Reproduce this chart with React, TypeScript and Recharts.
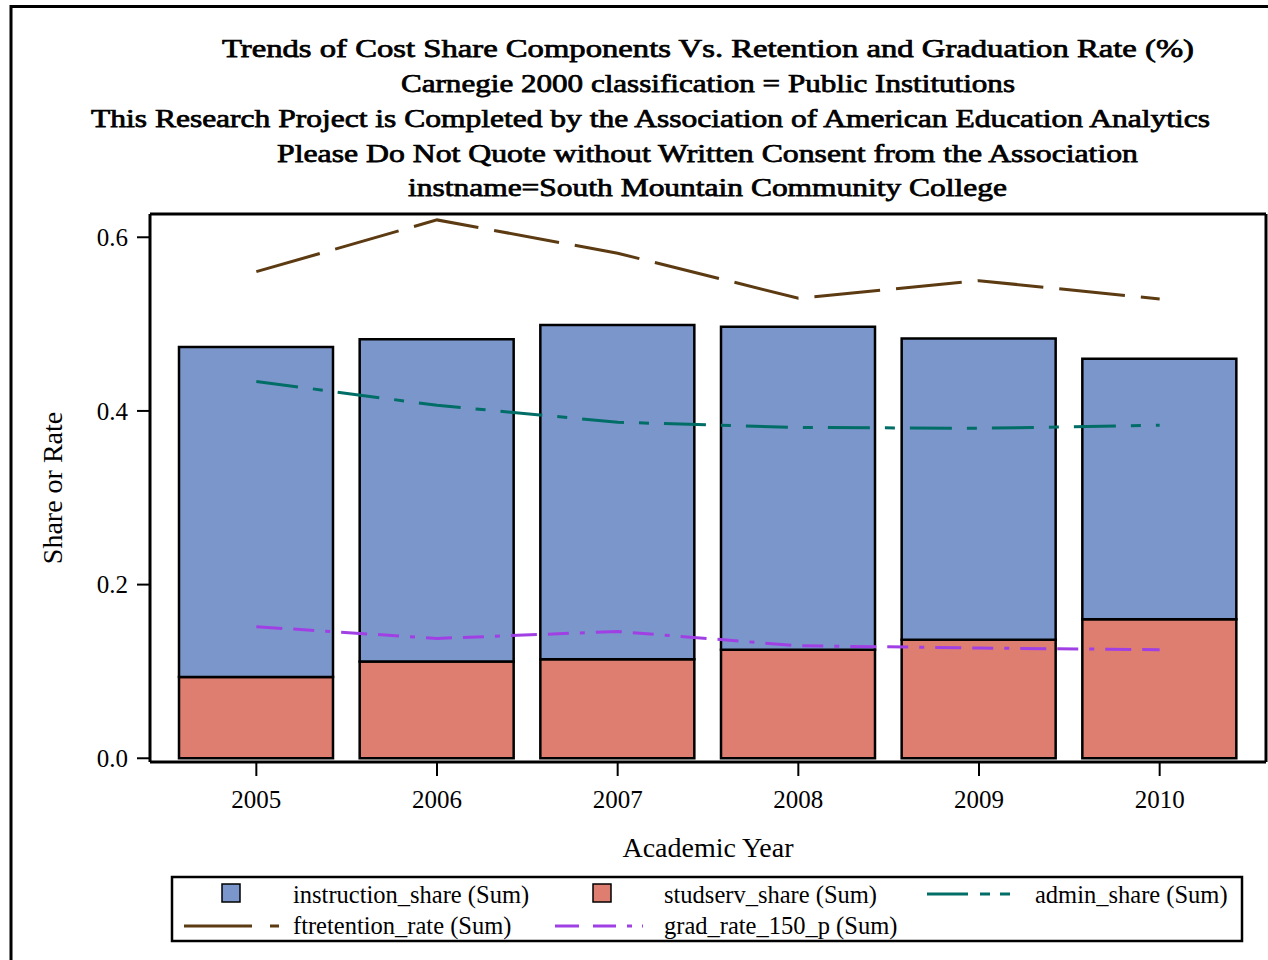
import React from 'react';
import { ComposedChart, Bar, Line, XAxis, YAxis } from 'recharts';

const years = ['2005', '2006', '2007', '2008', '2009', '2010'];
const instructionShare = [0.380, 0.371, 0.385, 0.372, 0.347, 0.300];
const studservShare = [0.0935, 0.1115, 0.114, 0.125, 0.1365, 0.160];
const adminShare = [0.434, 0.4065, 0.387, 0.381, 0.380, 0.3835];
const ftretentionRate = [0.5604, 0.620, 0.5816, 0.5298, 0.550, 0.529];
const gradRate150 = [0.1515, 0.138, 0.146, 0.1296, 0.127, 0.125];
const yTicks = [0, 0.2, 0.4, 0.6];

const titleLines = [
  'Trends of Cost Share Components Vs. Retention and Graduation Rate (%)',
  'Carnegie 2000 classification = Public Institutions',
  'This Research Project is Completed by the Association of American Education Analytics',
  'Please Do Not Quote without Written Consent from the Association',
  'instname=South Mountain Community College',
];

const data = years.map((y, i) => ({
  year: y,
  instruction: instructionShare[i],
  studserv: studservShare[i],
  admin: adminShare[i],
  ftretention: ftretentionRate[i],
  grad: gradRate150[i],
}));

const COLORS = {
  instruction: '#7B96CB',
  studserv: '#DE7E70',
  admin: '#006E66',
  ftretention: '#5C3A12',
  grad: '#A040E4',
};

const DASH = {
  ftretention: '66 16',
  admin: '42 15 10 15',
  grad: '26 11 21 11 5 11',
};

const FONT = 'Liberation Serif';

// title layout: [center x, baseline y, width]
const titleLayout: [number, number, number][] = [
  [708, 57, 972],
  [708, 92, 614],
  [650.5, 127, 1119],
  [707.5, 162, 861],
  [707.5, 196, 599],
];

export default function App() {
  return (
    <div style={{ position: 'absolute', left: 0, top: 0, width: 1268, height: 960, background: '#fff', overflow: 'hidden' }}>
      <ComposedChart
        width={1268}
        height={960}
        data={data}
        margin={{ top: 213, right: 1, bottom: 98, left: 0 }}
      >
        <XAxis
          xAxisId="main"
          dataKey="year"
          type="category"
          padding={{ left: 16, right: 16 }}
          height={100}
          axisLine={{ stroke: '#000', strokeWidth: 3 }}
          tickLine={{ stroke: '#000', strokeWidth: 2 }}
          tickSize={14}
          tickMargin={14}
          tick={{ fill: '#000', fontSize: 25, fontFamily: FONT }}
          label={{ value: 'Academic Year', position: 'insideBottom', offset: 5, fill: '#000', fontSize: 28, fontFamily: FONT }}
        />
        <XAxis
          xAxisId="top"
          dataKey="year"
          orientation="top"
          height={1}
          tick={false}
          tickLine={false}
          axisLine={{ stroke: '#000', strokeWidth: 3 }}
        />
        <YAxis
          yAxisId="left"
          type="number"
          width={150}
          domain={[-0.0043, 0.6268]}
          allowDataOverflow
          ticks={yTicks}
          tickFormatter={(v: number) => v.toFixed(1)}
          axisLine={{ stroke: '#000', strokeWidth: 3 }}
          tickLine={{ stroke: '#000', strokeWidth: 2 }}
          tickSize={13}
          tickMargin={9}
          tick={{ fill: '#000', fontSize: 25, fontFamily: FONT }}
          label={{ value: 'Share or Rate', angle: -90, position: 'insideLeft', offset: 52, fill: '#000', fontSize: 28, fontFamily: FONT, style: { textAnchor: 'middle' } }}
        />
        <YAxis
          yAxisId="right"
          orientation="right"
          type="number"
          width={1}
          domain={[-0.0043, 0.6268]}
          tick={false}
          tickLine={false}
          axisLine={{ stroke: '#000', strokeWidth: 3 }}
        />
        <Bar xAxisId="main" yAxisId="left" dataKey="studserv" stackId="s" barSize={154} fill={COLORS.studserv} stroke="#000" strokeWidth={2.5} isAnimationActive={false} />
        <Bar xAxisId="main" yAxisId="left" dataKey="instruction" stackId="s" barSize={154} fill={COLORS.instruction} stroke="#000" strokeWidth={2.5} isAnimationActive={false} />
        <Line xAxisId="main" yAxisId="left" type="linear" dataKey="ftretention" stroke={COLORS.ftretention} strokeWidth={3} strokeDasharray={DASH.ftretention} dot={false} activeDot={false} isAnimationActive={false} />
        <Line xAxisId="main" yAxisId="left" type="linear" dataKey="admin" stroke={COLORS.admin} strokeWidth={3} strokeDasharray={DASH.admin} dot={false} activeDot={false} isAnimationActive={false} />
        <Line xAxisId="main" yAxisId="left" type="linear" dataKey="grad" stroke={COLORS.grad} strokeWidth={3} strokeDasharray={DASH.grad} dot={false} activeDot={false} isAnimationActive={false} />
      </ComposedChart>
      <svg width={1268} height={960} style={{ position: 'absolute', left: 0, top: 0, pointerEvents: 'none' }}>
        <rect x={11} y={6.5} width={1400} height={1100} fill="none" stroke="#000" strokeWidth={3} />
        {titleLines.map((t, i) => (
          <text
            key={i}
            x={titleLayout[i][0]}
            y={titleLayout[i][1]}
            textAnchor="middle"
            textLength={titleLayout[i][2]}
            lengthAdjust="spacingAndGlyphs"
            fontFamily={FONT}
            fontSize={26}
            fill="#000"
            stroke="#000"
            strokeWidth={0.75}
          >
            {t}
          </text>
        ))}
        <rect x={172} y={877} width={1070} height={64} fill="#fff" stroke="#000" strokeWidth={2.5} />
        <g fontFamily={FONT} fontSize={24.5} fill="#000">
          <rect x={222} y={884} width={18} height={18} fill={COLORS.instruction} stroke="#000" strokeWidth={1.5} />
          <text x={293} y={903}>instruction_share (Sum)</text>
          <rect x={593} y={884} width={18} height={18} fill={COLORS.studserv} stroke="#000" strokeWidth={1.5} />
          <text x={664} y={903}>studserv_share (Sum)</text>
          <line x1={927} y1={894} x2={1011} y2={894} stroke={COLORS.admin} strokeWidth={3} strokeDasharray="41 12 10 10 10 12" />
          <text x={1035} y={903}>admin_share (Sum)</text>
          <line x1={184} y1={926} x2={279} y2={926} stroke={COLORS.ftretention} strokeWidth={3} strokeDasharray="68 18 9 10" />
          <text x={293} y={934}>ftretention_rate (Sum)</text>
          <line x1={555} y1={926} x2={643} y2={926} stroke={COLORS.grad} strokeWidth={3} strokeDasharray="24 14 23 11 5 10 6 10" />
          <text x={664} y={934}>grad_rate_150_p (Sum)</text>
        </g>
      </svg>
    </div>
  );
}
